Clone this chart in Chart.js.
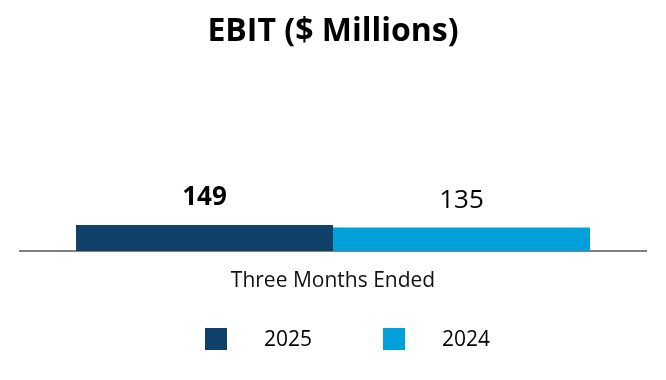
<!DOCTYPE html>
<html><head><meta charset="utf-8">
<script src="https://cdn.jsdelivr.net/npm/chart.js@4"></script>
<style>html,body{margin:0;padding:0;background:#fff}#wrap{width:666px;height:380px}</style>
</head><body><div id="wrap"><canvas id="c" width="666" height="380"></canvas></div>
<script>
const categories = ["Three Months Ended"];
const seriesNames = ["2025", "2024"];
const values2025 = [149];
const values2024 = [135];
const seriesColors = ["#0f4169", "#00a1db"];
const titleText = "EBIT ($ Millions)";

const FONT = "'Open Sans', 'Noto Sans', sans-serif";

const labelPlugin = {
  id: 'valLabels',
  afterDatasetsDraw(chart) {
    const ctx = chart.ctx;
    ctx.save();
    chart.data.datasets.forEach((ds, di) => {
      const meta = chart.getDatasetMeta(di);
      meta.data.forEach((el, i) => {
        ctx.font = (di === 0 ? 'bold ' : '') + '26px ' + FONT;
        ctx.fillStyle = '#000';
        ctx.textAlign = 'center';
        ctx.textBaseline = 'middle';
        ctx.fillText(String(ds.data[i]), el.x, el.y - 27);
      });
    });
    ctx.restore();
  }
};

const legendPlugin = {
  id: 'customLegend',
  afterDraw(chart) {
    const ctx = chart.ctx;
    ctx.save();
    const startX = 205, step = 178, cy = 339, box = 22, gap = 37;
    chart.data.datasets.forEach((ds, di) => {
      const x = startX + di * step;
      ctx.fillStyle = ds.backgroundColor;
      ctx.fillRect(x, cy - box / 2, box, box);
      ctx.font = '21px ' + FONT;
      ctx.fillStyle = '#000';
      ctx.textAlign = 'left';
      ctx.textBaseline = 'middle';
      ctx.fillText(ds.label, x + box + gap, cy + 1);
    });
    ctx.restore();
  }
};

new Chart(document.getElementById('c'), {
  type: 'bar',
  data: {
    labels: categories,
    datasets: [
      { label: seriesNames[0], data: values2025, backgroundColor: seriesColors[0] },
      { label: seriesNames[1], data: values2024, backgroundColor: seriesColors[1] }
    ]
  },
  options: {
    responsive: false,
    animation: false,
    devicePixelRatio: 1,
    layout: { padding: { left: 20, right: 20, top: 0, bottom: 0 } },
    datasets: { bar: { categoryPercentage: 0.8211, barPercentage: 1.0 } },
    plugins: {
      legend: { display: false },
      tooltip: { enabled: false },
      title: {
        display: true, text: titleText, color: '#000',
        font: { family: FONT, size: 32, weight: 'bold' },
        padding: { top: 13, bottom: 24.6 }
      }
    },
    scales: {
      y: { display: false, min: 0, max: 1000 },
      x: {
        grid: { display: false, drawTicks: false },
        border: { display: true, color: '#808080', width: 2 },
        ticks: { color: '#111', font: { family: FONT, size: 21 }, padding: 17 },
        afterFit(scale) { scale.height = 129; }
      }
    }
  },
  plugins: [labelPlugin, legendPlugin]
});
</script></body></html>
